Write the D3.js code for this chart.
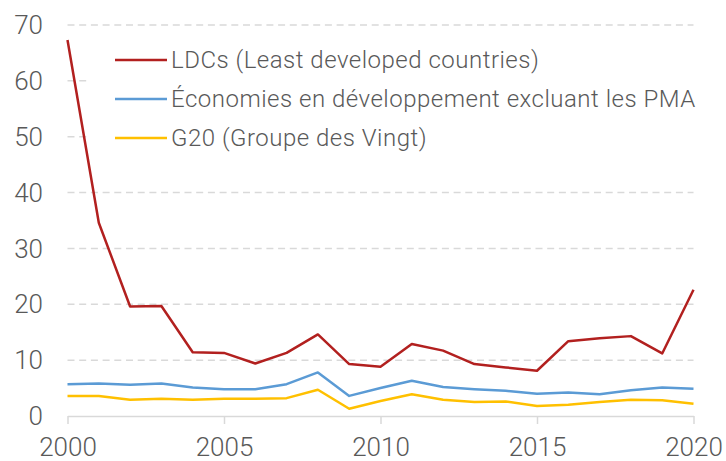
<!DOCTYPE html>
<html>
<head>
<meta charset="utf-8">
<script src="https://cdn.jsdelivr.net/npm/d3@7/dist/d3.min.js"></script>
<style>
  body { margin: 0; background: #fff; }
  text { font-family: Roboto, "Liberation Sans", Arial, sans-serif; font-weight: 300; fill: #595959; }
</style>
</head>
<body>
<svg id="chart" width="726" height="461"></svg>
<script>
const years = d3.range(2000, 2021)
const ldc = [67.3, 34.6, 19.6, 19.7, 11.4, 11.3, 9.4, 11.3, 14.6, 9.3, 8.8, 12.9, 11.7, 9.3, 8.7, 8.1, 13.4, 13.9, 14.3, 11.2, 22.6]
const dev = [5.7, 5.8, 5.6, 5.8, 5.1, 4.8, 4.8, 5.7, 7.8, 3.6, 5.0, 6.3, 5.2, 4.8, 4.5, 4.0, 4.2, 3.9, 4.6, 5.1, 4.9]
const g20 = [3.6, 3.6, 2.9, 3.1, 2.9, 3.1, 3.1, 3.2, 4.7, 1.3, 2.7, 3.9, 2.9, 2.5, 2.6, 1.8, 2.0, 2.5, 2.9, 2.8, 2.2]
const series_names = ["LDCs (Least developed countries)", "Économies en développement excluant les PMA", "G20 (Groupe des Vingt)"]
const series_colors = ["#b2201f", "#5b9bd5", "#ffc000"]
const y_ticks = [0, 10, 20, 30, 40, 50, 60, 70]
const x_ticks = [2000, 2005, 2010, 2015, 2020]

const svg = d3.select("#chart")
const width = 726, height = 461

const x = d3.scaleLinear().domain([2000, 2020]).range([67.5, 693.5])
const y = d3.scaleLinear().domain([0, 70]).range([416, 25])

// grid lines
svg.append("g").selectAll("line")
	.data(y_ticks.filter(d => d > 0))
	.join("line")
	.attr("x1", x(2000))
	.attr("x2", x(2020))
	.attr("y1", d => y(d))
	.attr("y2", d => y(d))
	.attr("stroke", "#d9d9d9")
	.attr("stroke-width", 1.5)
	.attr("stroke-dasharray", "7,4.7")

// y labels
svg.append("g").selectAll("text")
	.data(y_ticks)
	.join("text")
	.text(d => d)
	.attr("x", 43)
	.attr("y", d => y(d))
	.attr("dy", "0.35em")
	.attr("text-anchor", "end")
	.style("font-size", "26px")

// x axis
const xAxis = svg.append("g")
	.attr("transform", `translate(0,${y(0)})`)
	.call(d3.axisBottom(x).tickValues(x_ticks).tickFormat(d3.format("d")).tickSize(8).tickPadding(14).tickSizeOuter(0))
xAxis.select(".domain").attr("stroke", "#d9d9d9").attr("stroke-width", 1.5)
xAxis.selectAll(".tick line").attr("stroke", "#d9d9d9").attr("stroke-width", 1.5)
xAxis.selectAll(".tick text")
	.attr("fill", "#595959")
	.style("font-family", "Roboto, 'Liberation Sans', Arial, sans-serif")
	.style("font-weight", 300)
	.style("font-size", "26px")

// legend
const legend = svg.append("g").classed("legend", true)
legend.append("rect")
	.attr("x", 89).attr("y", 38)
	.attr("width", width - 89).attr("height", 122)
	.attr("fill", "#fff")

// lines
const all_series = [ldc, dev, g20]
const line = d3.line().x((d, i) => x(years[i])).y(d => y(d))
svg.append("g").selectAll("path")
	.data(all_series.slice().reverse())
	.join("path")
	.attr("d", d => line(d))
	.attr("fill", "none")
	.attr("stroke", (d, i) => series_colors[2 - i])
	.attr("stroke-width", 2.5)
	.attr("stroke-linejoin", "round")

const legend_rows = [60, 99, 138]
legend.selectAll("line.key")
	.data(series_names)
	.join("line")
	.classed("key", true)
	.attr("x1", 115).attr("x2", 167)
	.attr("y1", (d, i) => legend_rows[i])
	.attr("y2", (d, i) => legend_rows[i])
	.attr("stroke", (d, i) => series_colors[i])
	.attr("stroke-width", 2.5)
legend.selectAll("text")
	.data(series_names)
	.join("text")
	.text(d => d)
	.attr("x", 171)
	.attr("y", (d, i) => legend_rows[i])
	.attr("dy", "0.35em")
	.style("font-size", "24px")
	.style("letter-spacing", "0.5px")
</script>
</body>
</html>
